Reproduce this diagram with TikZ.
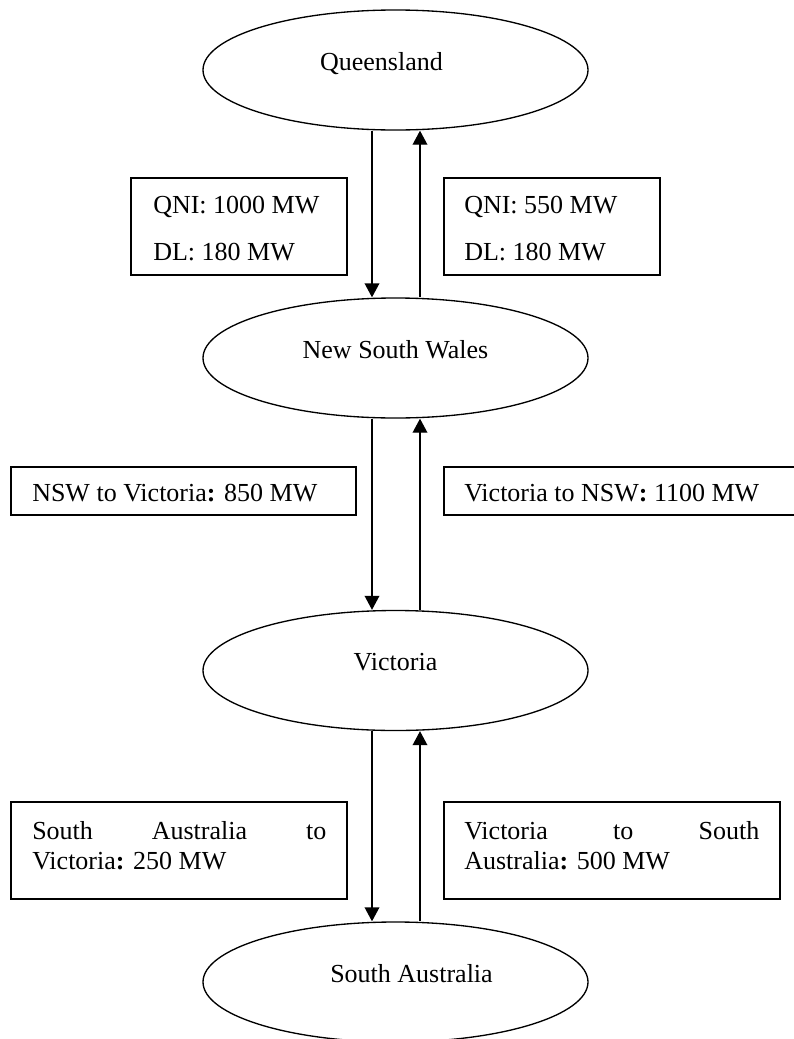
\documentclass[tikz,border=0pt]{standalone}
\usepackage{fontspec}
\setmainfont{Liberation Serif}
\usetikzlibrary{shapes.geometric,arrows.meta}
\begin{document}
\begin{tikzpicture}[x=0.75pt,y=-0.75pt,
  region/.style={draw, line width=1pt, ellipse, minimum width=288.75pt, minimum height=90pt,
    inner sep=0pt, text height=15pt, text depth=15pt, font=\fontsize{19.5}{22.5}\selectfont},
  flowbox/.style={draw, line width=1pt, rectangle, inner sep=0pt},
  lbl/.style={anchor=base west, inner sep=0pt, font=\fontsize{19.5}{22.5}\selectfont},
  flow/.style={line width=1pt, -{Triangle[length=10.5pt,width=11pt]}}]
\useasboundingbox (0,0) rectangle (793,1039);

% regions
\node[region] (qld) at (395.5,70)   {\hspace*{-21pt}Queensland};
\node[region] (nsw) at (395.5,358)  {New South Wales};
\node[region] (vic) at (395.5,670.5){Victoria};
\node[region] (sa)  at (395.5,982)  {\hspace*{24pt}South Australia};

% boxes
\node[flowbox, minimum width=162pt, minimum height=72.75pt] (b1) at (239,226.5) {};
\node[flowbox, minimum width=162pt, minimum height=72.75pt] (b2) at (552,226.5) {};
\node[flowbox, minimum width=258.75pt, minimum height=36pt] (b3) at (183.5,491) {};
\node[flowbox, minimum width=274.5pt, minimum height=36pt] (b4) at (627,491) {};
\node[flowbox, minimum width=252pt, minimum height=72.75pt] (b5) at (179,850.5) {};
\node[flowbox, minimum width=252pt, minimum height=72.75pt] (b6) at (612,850.5) {};

% box texts
\node[lbl] (t1a) at (153,213) {QNI: 1000 MW};
\node[lbl] (t1b) at (153,260) {DL: 180 MW};
\node[lbl] (t2a) at (464,213) {QNI: 550 MW};
\node[lbl] (t2b) at (464,260) {DL: 180 MW};
\node[lbl] (t3)  at (32,501)  {NSW to Victoria\textbf{:} 850 MW};
\node[lbl] (t4)  at (464,501) {Victoria to NSW\textbf{:} 1100 MW};
\node[lbl] (t5a) at (32,839)  {\makebox[220.5pt][s]{South Australia to}};
\node[lbl] (t5b) at (32,869)  {Victoria\textbf{:} 250 MW};
\node[lbl] (t6a) at (464,839) {\makebox[221.25pt][s]{Victoria to South}};
\node[lbl] (t6b) at (464,869) {Australia\textbf{:} 500 MW};

% flows
\draw[flow] ([xshift=-17.625pt]qld.south) -- ([xshift=-17.625pt]nsw.north);
\draw[flow] ([xshift=18.375pt]nsw.north) -- ([xshift=18.375pt]qld.south);
\draw[flow] ([xshift=-17.625pt]nsw.south) -- ([xshift=-17.625pt]vic.north);
\draw[flow] ([xshift=18.375pt]vic.north) -- ([xshift=18.375pt]nsw.south);
\draw[flow] ([xshift=-17.625pt]vic.south) -- ([xshift=-17.625pt]sa.north);
\draw[flow] ([xshift=18.375pt]sa.north) -- ([xshift=18.375pt]vic.south);
\end{tikzpicture}
\end{document}
